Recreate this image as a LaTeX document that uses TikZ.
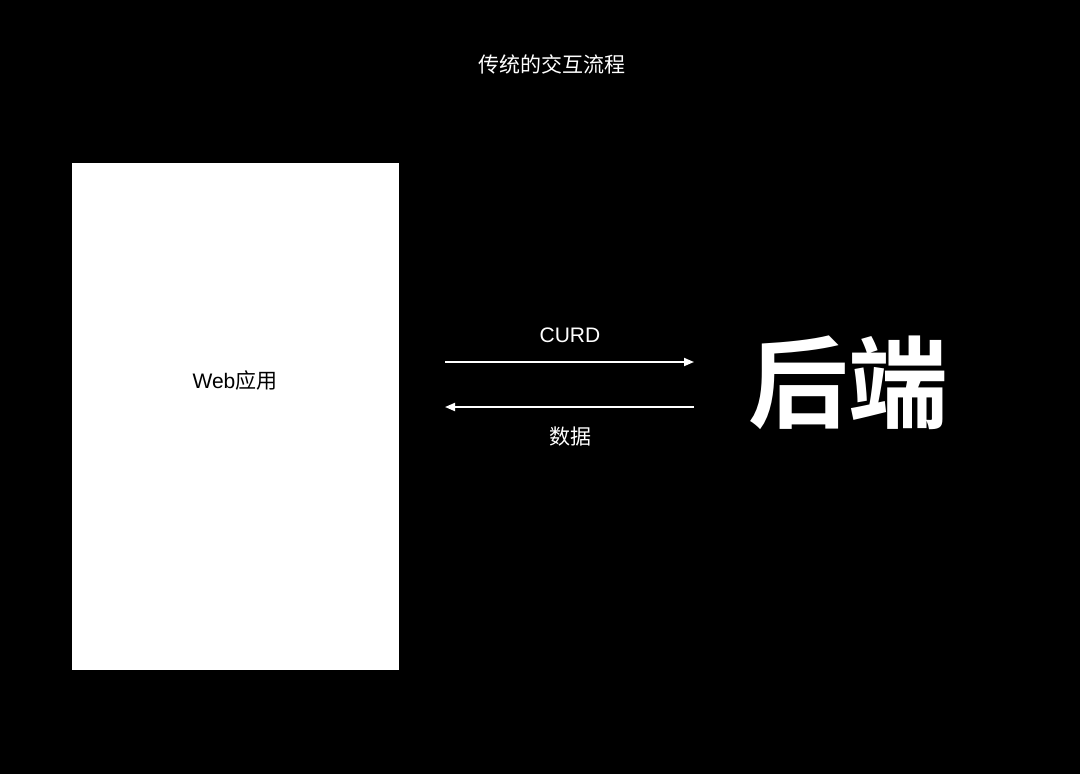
\documentclass[tikz,border=0pt]{standalone}
\usepackage{fontspec}
\setmainfont{Liberation Sans}
\newfontfamily\cjk{Noto Sans CJK SC}
\newfontfamily\cjkbold{Noto Sans CJK SC Bold}
\usetikzlibrary{arrows.meta}
\begin{document}
\begin{tikzpicture}[x=1pt,y=-1pt,
  lbl/.style={text=white,font=\fontsize{21}{24}\selectfont,inner sep=0pt},
  flow/.style={draw=white,line width=1.8pt,-{Triangle[length=10pt,width=8pt]}}]
\fill[black] (0,0) rectangle (1080,774);
\useasboundingbox (0,0) rectangle (1080,774);
\node[lbl] (title) at (552,64) {\cjk 传统的交互流程};
\node[fill=white,draw=none,minimum width=327pt,minimum height=507pt,inner sep=0pt] (app) at (235.5,416.5) {};
\node[inner sep=0pt,text=black,font=\fontsize{21}{24}\selectfont] (apptext) at (235,381) {Web{\cjk 应用}};
\node[text=white,inner sep=0pt,font=\fontsize{100}{110}\selectfont] (backend) at (848,383) {\cjkbold 后端};
\coordinate (a1) at (445,362);
\coordinate (a2) at (694,362);
\coordinate (b1) at (694,407);
\coordinate (b2) at (445,407);
\draw[flow] (a1) -- (a2);
\draw[flow] (b1) -- (b2);
\node[lbl] (curd) at (570,335) {CURD};
\node[lbl] (data) at (570,437) {\cjk 数据};
\end{tikzpicture}
\end{document}
